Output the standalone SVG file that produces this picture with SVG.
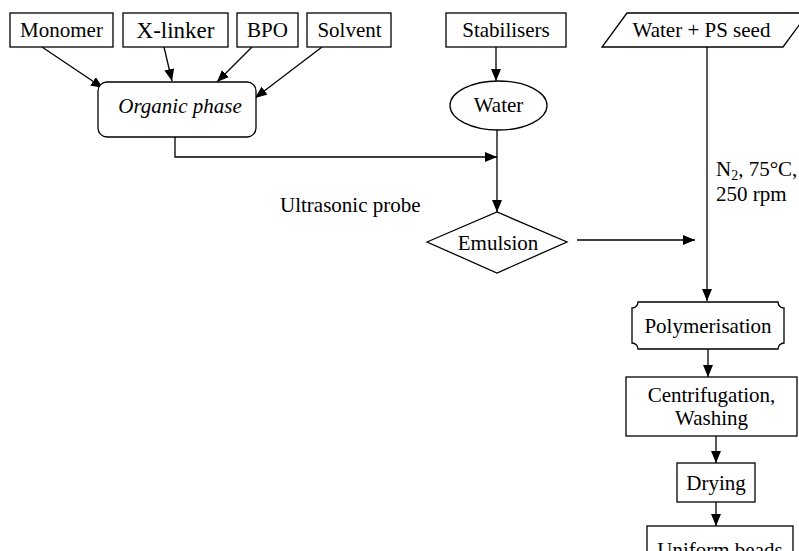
<svg xmlns="http://www.w3.org/2000/svg" width="799" height="551" viewBox="0 0 799 551">
<defs>
<marker id="ah" markerUnits="userSpaceOnUse" markerWidth="13" markerHeight="11" refX="12" refY="5" orient="auto">
<path d="M0,0 L12,5 L0,10 z" fill="#000"/>
</marker>
<style>
.s{fill:#fff;stroke:#000;stroke-width:1.3}
.t{font-family:"Liberation Serif","Times New Roman",serif;font-size:21px;fill:#000;text-anchor:middle}
.l{font-family:"Liberation Serif","Times New Roman",serif;font-size:21px;fill:#000}
.c{fill:none;stroke:#000;stroke-width:1.3}
</style>
</defs>
<rect width="799" height="551" fill="#fff"/>
<g id="connectors">
<line class="c" x1="42" y1="47" x2="103" y2="88" marker-end="url(#ah)"/>
<line class="c" x1="164" y1="47" x2="172" y2="81" marker-end="url(#ah)"/>
<line class="c" x1="252" y1="47" x2="217" y2="82" marker-end="url(#ah)"/>
<line class="c" x1="322" y1="47" x2="255" y2="98" marker-end="url(#ah)"/>
<polyline class="c" points="175,137 175,157 497,157" marker-end="url(#ah)"/>
<line class="c" x1="496" y1="47" x2="496" y2="81" marker-end="url(#ah)"/>
<line class="c" x1="497" y1="130" x2="497" y2="212" marker-end="url(#ah)"/>
<line class="c" x1="577" y1="240" x2="695" y2="240" marker-end="url(#ah)"/>
<line class="c" x1="707" y1="47" x2="707" y2="301" marker-end="url(#ah)"/>
<line class="c" x1="708" y1="349" x2="708" y2="377" marker-end="url(#ah)"/>
<line class="c" x1="716" y1="436" x2="716" y2="463" marker-end="url(#ah)"/>
<line class="c" x1="716" y1="502" x2="716" y2="526" marker-end="url(#ah)"/>
</g>
<g id="monomer"><rect class="s" x="10" y="13" width="103" height="34"/><text class="t" x="61.5" y="37">Monomer</text></g>
<g id="xlinker"><rect class="s" x="123" y="13" width="105" height="34"/><text class="t" x="175.5" y="38" style="font-size:23px">X-linker</text></g>
<g id="bpo"><rect class="s" x="237" y="13" width="61" height="34"/><text class="t" x="267.5" y="37">BPO</text></g>
<g id="solvent"><rect class="s" x="307" y="13" width="84" height="34"/><text class="t" x="349.5" y="37">Solvent</text></g>
<g id="organic"><rect class="s" x="98" y="82" width="158" height="55" rx="9"/><text class="t" x="180" y="113" font-style="italic">Organic phase</text></g>
<g id="stabilisers"><rect class="s" x="446" y="13" width="120" height="34"/><text class="t" x="506" y="37">Stabilisers</text></g>
<g id="water"><ellipse class="s" cx="498.5" cy="105.5" rx="48.5" ry="24.5"/><text class="t" x="498.5" y="112">Water</text></g>
<g id="seed"><polygon class="s" points="627,13 808,13 783,47 602,47"/><text class="t" x="701.5" y="37">Water + PS seed</text></g>
<g id="emulsion"><polygon class="s" points="427,242 497,212 567,242 497,273"/><text class="t" x="498" y="249.5">Emulsion</text></g>
<g id="ultrasonic"><text class="l" x="280" y="212">Ultrasonic probe</text></g>
<g id="conditions"><text class="l" x="716" y="176">N<tspan font-size="14" dy="4">2</tspan><tspan dy="-4">, 75°C,</tspan></text><text class="l" x="716" y="201">250 rpm</text></g>
<g id="polymerisation"><path class="s" d="M638,302 H778 A6,6 0 0 0 784,308 V343 A6,6 0 0 0 778,349 H638 A6,6 0 0 0 632,343 V308 A6,6 0 0 0 638,302 Z"/><text class="t" x="708" y="333">Polymerisation</text></g>
<g id="centrifugation"><rect class="s" x="626" y="377" width="171" height="59"/><text class="t" x="711.5" y="402">Centrifugation,</text><text class="t" x="711.5" y="425">Washing</text></g>
<g id="drying"><rect class="s" x="677" y="463" width="78" height="39"/><text class="t" x="716" y="490">Drying</text></g>
<g id="beads"><rect class="s" x="647" y="526" width="146" height="44"/><text class="t" x="720" y="557">Uniform beads</text></g>
</svg>
